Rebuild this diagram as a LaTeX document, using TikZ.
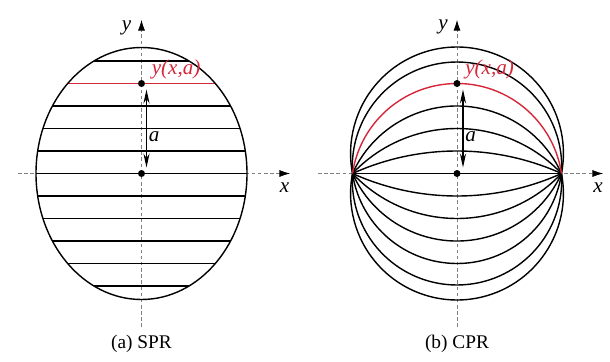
\documentclass[tikz,border=0pt]{standalone}
\usepackage{fontspec}
\setmainfont{Liberation Serif}
\usetikzlibrary{arrows.meta,positioning}
\definecolor{pathred}{RGB}{214,38,58}
\tikzset{
    axisline/.style={gray, line width=0.4pt, dash pattern=on 2pt off 1.5pt, -{Latex[black,length=6pt,width=4pt]}},
    curve/.style={line width=0.8pt},
    redcurve/.style={curve, pathred},
    dot/.style={circle, fill, inner sep=0pt, minimum size=0.14cm},
    gap/.style={line width=0.6pt, {Stealth[length=8pt,width=3.5pt]}-{Stealth[length=8pt,width=3.5pt]}},
    lab/.style={font=\fontsize{12}{14}\selectfont\itshape},
    redlab/.style={lab, pathred, anchor=south west, inner sep=0pt},
}
\begin{document}
\begin{tikzpicture}[font=\fontsize{11}{13}\selectfont]
    \useasboundingbox (-2.83,-3.77) rectangle (9.37,3.47);

    % (a) SPR: straight slices
    \begin{scope}
        \coordinate (xs1) at (-2.47,0);
        \coordinate (xe1) at (2.97,0);
        \coordinate (ys1) at (0,-3.07);
        \coordinate (ye1) at (0,3.07);
        \draw[axisline] (xs1) -- (xe1);
        \draw[axisline] (ys1) -- (ye1);
        \node[lab] (xl1) at (2.86,-0.28) {x};
        \node[lab] (yl1) at (-0.3,2.92) {y};
        \foreach \k in {-5,...,3,5} {
            \pgfmathsetmacro{\yy}{0.45*\k}
            \pgfmathsetmacro{\hw}{2.11*sqrt(1-(\yy/2.52)^2)}
            \draw[curve] (-\hw,\yy) -- (\hw,\yy);
        }
        \pgfmathsetmacro{\hw}{2.11*sqrt(1-(1.8/2.52)^2)}
        \draw[redcurve] (-\hw,1.8) -- (\hw,1.8);
        \draw[curve] (0,0) ellipse [x radius=2.11, y radius=2.52];
        \node[dot] (O1) at (0,0) {};
        \node[dot] (P1) at (0,1.8) {};
        \coordinate (at1) at (0.1,1.68);
        \coordinate (ab1) at (0.1,0.12);
        \draw[gap] (at1) -- (ab1) node[lab, pos=0.6, right, inner sep=1pt] {a};
        \node[redlab] (yx1) at (0.2,1.88) {y(x,a)};
        \node (cap1) at (0,-3.41) {(a) SPR};
    \end{scope}

    % (b) CPR: circular arcs through the two end points
    \begin{scope}[shift={(6.31,0)}]
        \coordinate (xs2) at (-2.78,0);
        \coordinate (xe2) at (2.92,0);
        \coordinate (ys2) at (0,-3.07);
        \coordinate (ye2) at (0,3.07);
        \coordinate (L2) at (-2.09,0);
        \coordinate (R2) at (2.09,0);
        \draw[axisline] (xs2) -- (xe2);
        \draw[axisline] (ys2) -- (ye2);
        \node[lab] (xl2) at (2.82,-0.29) {x};
        \node[lab] (yl2) at (-0.28,2.93) {y};
        \draw[curve] (L2) -- (R2);
        \foreach \h in {0.45,0.9,1.35,1.8,2.23,2.53} {
            \pgfmathsetmacro{\rad}{(2.09*2.09+\h*\h)/(2*\h)}
            \pgfmathsetmacro{\ang}{atan((\rad-\h)/2.09)}
            \draw[curve] (R2) arc[start angle=-\ang, end angle=\ang-180, radius=\rad];
        }
        \foreach \h in {0.45,0.9,1.35,2.23,2.53} {
            \pgfmathsetmacro{\rad}{(2.09*2.09+\h*\h)/(2*\h)}
            \pgfmathsetmacro{\ang}{atan((\rad-\h)/2.09)}
            \draw[curve] (R2) arc[start angle=\ang, end angle=180-\ang, radius=\rad];
        }
        \pgfmathsetmacro{\rad}{(2.09*2.09+1.8*1.8)/(2*1.8)}
        \pgfmathsetmacro{\ang}{atan((\rad-1.8)/2.09)}
        \draw[redcurve] (R2) arc[start angle=\ang, end angle=180-\ang, radius=\rad];
        \node[dot] (O2) at (0,0) {};
        \node[dot] (P2) at (0,1.8) {};
        \coordinate (at2) at (0.12,1.68);
        \coordinate (ab2) at (0.12,0.12);
        \draw[gap] (at2) -- (ab2) node[lab, pos=0.6, right, inner sep=1pt] {a};
        \node[redlab] (yx2) at (0.16,1.88) {y(x,a)};
        \node (cap2) at (0,-3.41) {(b) CPR};
    \end{scope}
\end{tikzpicture}
\end{document}
